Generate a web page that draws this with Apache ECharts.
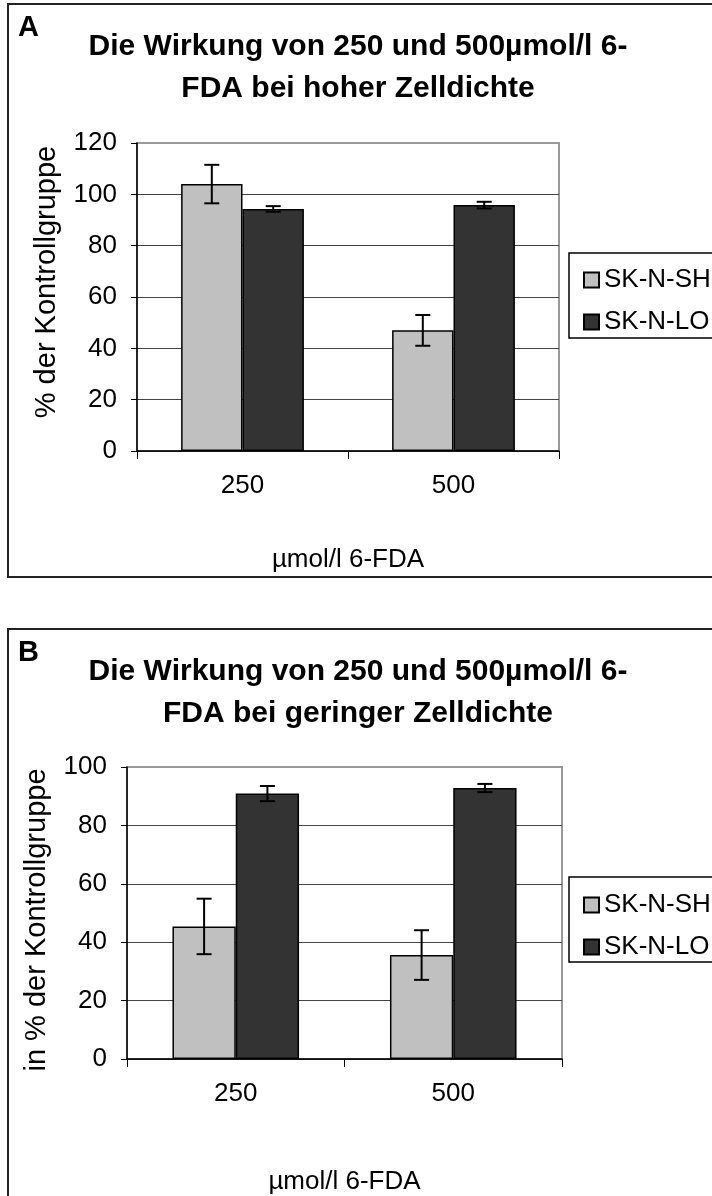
<!DOCTYPE html>
<html>
<head>
<meta charset="utf-8">
<script src="https://cdn.jsdelivr.net/npm/echarts@6/dist/echarts.min.js"></script>
<style>
html,body{margin:0;padding:0;background:#fff;}
#c{width:712px;height:1196px;}
</style>
</head>
<body>
<div id="c"></div>
<script>
// ---- data ----
var categories = ['250', '500'];
var seriesNames = ['SK-N-SH', 'SK-N-LO'];
// Panel A: hohe Zelldichte
var aShMean = [104, 47];
var aShErr  = [7.5, 6];
var aLoMean = [94.3, 95.8];
var aLoErr  = [1.1, 1.3];
// Panel B: geringe Zelldichte
var bShMean = [45.4, 35.6];
var bShErr  = [9.5, 8.5];
var bLoMean = [90.9, 92.8];
var bLoErr  = [2.6, 1.4];
var aYTicks = [0, 20, 40, 60, 80, 100, 120];
var bYTicks = [0, 20, 40, 60, 80, 100];

var FONT = 'Liberation Sans, Arial, sans-serif';
var GAP = 0.418;

var chart = echarts.init(document.getElementById('c'), null, {renderer: 'canvas'});

function errSeries(name, means, errs, gridIdx, sign) {
  return {
    type: 'custom',
    name: name + '_err',
    xAxisIndex: gridIdx, yAxisIndex: gridIdx,
    z: 10,
    silent: true,
    data: means.map(function (m, i) { return [i, m, errs[i]]; }),
    renderItem: function (params, api) {
      var x = api.value(0), m = api.value(1), e = api.value(2);
      var band = api.size([1, 0])[0];
      var off = band * (1 - GAP) / 4 * sign;
      var t = api.coord([x, m + e]);
      var b = api.coord([x, m - e]);
      var cx = t[0] + off;
      var hw = 7.5;
      var st = {stroke: '#000', lineWidth: 2};
      return {
        type: 'group',
        children: [
          {type: 'line', shape: {x1: cx, y1: t[1], x2: cx, y2: b[1]}, style: st},
          {type: 'line', shape: {x1: cx - hw, y1: t[1], x2: cx + hw, y2: t[1]}, style: st},
          {type: 'line', shape: {x1: cx - hw, y1: b[1], x2: cx + hw, y2: b[1]}, style: st}
        ]
      };
    }
  };
}

function barSeries(name, means, gridIdx, color) {
  return {
    type: 'bar',
    name: name,
    xAxisIndex: gridIdx, yAxisIndex: gridIdx,
    data: means,
    barGap: '0%',
    barCategoryGap: (GAP * 100) + '%',
    itemStyle: {color: color, borderColor: '#000', borderWidth: 1.5},
    emphasis: {disabled: true}
  };
}

function xAxisOpt(gridIdx, nameGap) {
  return {
    type: 'category', gridIndex: gridIdx, data: categories,
    axisLine: {lineStyle: {color: '#000', width: 1.5}},
    axisTick: {show: true, length: 8, interval: 0, lineStyle: {color: '#000', width: 1}},
    axisLabel: {color: '#000', fontSize: 26, fontFamily: FONT, margin: 22, interval: 0},
    name: 'µmol/l 6-FDA', nameLocation: 'middle', nameGap: nameGap,
    nameTextStyle: {color: '#000', fontSize: 26, fontFamily: FONT}
  };
}

function yAxisOpt(gridIdx, max, ticks) {
  return {
    type: 'value', gridIndex: gridIdx, min: ticks[0], max: max, interval: ticks[1] - ticks[0],
    axisLine: {show: true, lineStyle: {color: '#000', width: 1.5}},
    axisTick: {show: true, length: 6, lineStyle: {color: '#000', width: 1}},
    axisLabel: {color: '#000', fontSize: 26, fontFamily: FONT, margin: 20},
    splitLine: {show: true, showMaxLine: false, lineStyle: {color: '#444', width: 1}}
  };
}

var legendCommon = {
  orient: 'vertical', itemWidth: 15, itemHeight: 15, itemGap: 12,
  icon: 'rect', selectedMode: false,
  textStyle: {color: '#000', fontSize: 26, fontFamily: FONT, lineHeight: 30},
  data: seriesNames
};

var option = {
  animation: false,
  backgroundColor: '#fff',
  grid: [
    {left: 137, top: 143, width: 422, height: 308, show: true, borderColor: '#999', borderWidth: 2, backgroundColor: 'transparent'},
    {left: 127, top: 767, width: 435, height: 308, show: true, borderColor: '#999', borderWidth: 2, backgroundColor: 'transparent'}
  ],
  xAxis: [xAxisOpt(0, 96), xAxisOpt(1, 110)],
  yAxis: [yAxisOpt(0, 120, aYTicks), yAxisOpt(1, 100, bYTicks)],
  legend: [
    Object.assign({left: 578, top: 260}, legendCommon, {data: [{name: 'SK-N-SH'}, {name: 'SK-N-LO'}]}),
    Object.assign({left: 578, top: 885}, legendCommon, {data: [{name: 'SK-N-SH'}, {name: 'SK-N-LO'}]})
  ],
  series: [
    barSeries('SK-N-SH', aShMean, 0, '#C0C0C0'),
    barSeries('SK-N-LO', aLoMean, 0, '#333333'),
    errSeries('SK-N-SH', aShMean, aShErr, 0, -1),
    errSeries('SK-N-LO', aLoMean, aLoErr, 0, 1),
    barSeries('SK-N-SH', bShMean, 1, '#C0C0C0'),
    barSeries('SK-N-LO', bLoMean, 1, '#333333'),
    errSeries('SK-N-SH', bShMean, bShErr, 1, -1),
    errSeries('SK-N-LO', bLoMean, bLoErr, 1, 1)
  ],
  graphic: [
    // frames
    {type: 'rect', z: -10, shape: {x: 8, y: 4, width: 720, height: 573}, style: {fill: 'transparent', stroke: '#222', lineWidth: 2}},
    {type: 'rect', z: -10, shape: {x: 8, y: 629, width: 720, height: 600}, style: {fill: 'transparent', stroke: '#222', lineWidth: 2}},
    // legend boxes
    {type: 'rect', z: -5, shape: {x: 569, y: 253, width: 200, height: 85}, style: {fill: '#fff', stroke: '#000', lineWidth: 1.5}},
    {type: 'rect', z: -5, shape: {x: 569, y: 877, width: 200, height: 85}, style: {fill: '#fff', stroke: '#000', lineWidth: 1.5}},
    // panel letters
    {type: 'text', x: 18, y: 28, style: {text: 'A', font: 'bold 29px ' + FONT, fill: '#000', textVerticalAlign: 'middle'}},
    {type: 'text', x: 18, y: 653, style: {text: 'B', font: 'bold 29px ' + FONT, fill: '#000', textVerticalAlign: 'middle'}},
    // titles
    {type: 'text', x: 358, y: 47, style: {text: 'Die Wirkung von 250 und 500µmol/l 6-', font: 'bold 30px ' + FONT, fill: '#000', textAlign: 'center', textVerticalAlign: 'middle'}},
    {type: 'text', x: 358, y: 89, style: {text: 'FDA bei hoher Zelldichte', font: 'bold 30px ' + FONT, fill: '#000', textAlign: 'center', textVerticalAlign: 'middle'}},
    {type: 'text', x: 358, y: 672, style: {text: 'Die Wirkung von 250 und 500µmol/l 6-', font: 'bold 30px ' + FONT, fill: '#000', textAlign: 'center', textVerticalAlign: 'middle'}},
    {type: 'text', x: 358, y: 714, style: {text: 'FDA bei geringer Zelldichte', font: 'bold 30px ' + FONT, fill: '#000', textAlign: 'center', textVerticalAlign: 'middle'}},
    // y-axis titles
    {type: 'text', x: 47, y: 282, rotation: Math.PI / 2, style: {text: '% der Kontrollgruppe', font: '29px ' + FONT, fill: '#000', textAlign: 'center', textVerticalAlign: 'middle'}},
    {type: 'text', x: 37, y: 920, rotation: Math.PI / 2, style: {text: 'in % der Kontrollgruppe', font: '29px ' + FONT, fill: '#000', textAlign: 'center', textVerticalAlign: 'middle'}}
  ]
};
chart.setOption(option);
</script>
</body>
</html>
